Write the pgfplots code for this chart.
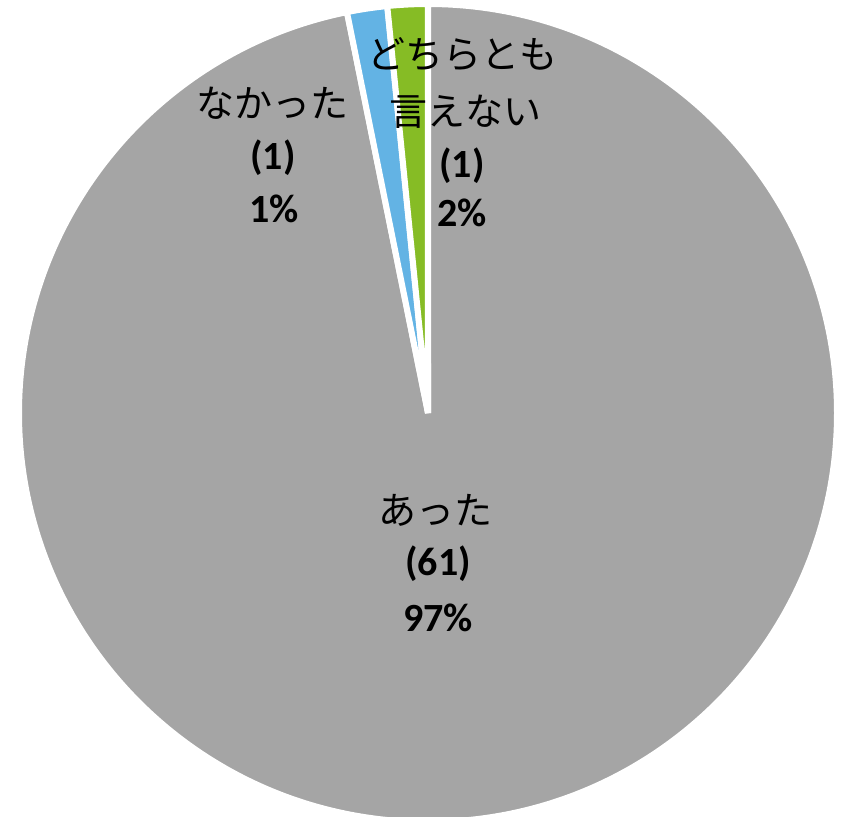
\documentclass[border=0pt]{standalone}
\usepackage{fontspec}
\setmainfont{Carlito}
\newfontfamily\jp{Noto Sans CJK JP}
\usepackage{pgfplots}
\usepackage{pgfplotstable}
\pgfplotsset{compat=1.18}
\definecolor{cgray}{RGB}{165,165,165}
\definecolor{cblue}{RGB}{99,179,228}
\definecolor{cgreen}{RGB}{134,188,37}

\pgfplotstableread[col sep=comma]{
slice,count
0,61
1,1
2,1
}\piedata

\begin{document}
\begin{tikzpicture}
\pgfplotstablegetelem{0}{count}\of\piedata \let\vA\pgfplotsretval
\pgfplotstablegetelem{1}{count}\of\piedata \let\vB\pgfplotsretval
\pgfplotstablegetelem{2}{count}\of\piedata \let\vC\pgfplotsretval
\pgfmathsetmacro\total{\vA+\vB+\vC}
\pgfmathsetmacro\aA{90}
\pgfmathsetmacro\aB{90-360*(\vA/\total)}
\pgfmathsetmacro\aC{\aB-360*(\vB/\total)}
\pgfmathsetmacro\aD{\aC-360*(\vC/\total)}
\begin{axis}[width=420.5pt,height=408pt,scale only axis,
  xmin=0,xmax=841,ymin=0,ymax=816,hide axis,clip=false]
\addplot[draw=none] coordinates {(0,0) (841,816)};
\filldraw[fill=cgray,draw=white,line width=3pt] (axis cs:428,403) -- ++(\aA:204.5pt) arc[start angle=\aA,end angle=\aB,radius=204.5pt] -- cycle;
\filldraw[fill=cblue,draw=white,line width=3pt] (axis cs:428,403) -- ++(\aB:204.5pt) arc[start angle=\aB,end angle=\aC,radius=204.5pt] -- cycle;
\filldraw[fill=cgreen,draw=white,line width=3pt] (axis cs:428,403) -- ++(\aC:204.5pt) arc[start angle=\aC,end angle=\aD,radius=204.5pt] -- cycle;
% labels
\node[font=\jp\fontsize{19pt}{19pt}\selectfont] at (axis cs:435,306) {あった};
\node[font=\bfseries\fontsize{20pt}{20pt}\selectfont] at (axis cs:438,252) {(61)};
\node[font=\bfseries\fontsize{20pt}{20pt}\selectfont] at (axis cs:438,198) {97\%};
\node[font=\jp\fontsize{19pt}{19pt}\selectfont] at (axis cs:272,713) {なかった};
\node[font=\bfseries\fontsize{20pt}{20pt}\selectfont] at (axis cs:273,658) {(1)};
\node[font=\bfseries\fontsize{20pt}{20pt}\selectfont] at (axis cs:274,607) {1\%};
\node[font=\jp\fontsize{19pt}{19pt}\selectfont] at (axis cs:462,762) {どちらとも};
\node[font=\jp\fontsize{19pt}{19pt}\selectfont] at (axis cs:465,704) {言えない};
\node[font=\bfseries\fontsize{20pt}{20pt}\selectfont] at (axis cs:462,650) {(1)};
\node[font=\bfseries\fontsize{20pt}{20pt}\selectfont] at (axis cs:462,603) {2\%};
\end{axis}
\pgfresetboundingbox
\path[use as bounding box] (current axis.south west) rectangle (current axis.north east);
\end{tikzpicture}
\end{document}
